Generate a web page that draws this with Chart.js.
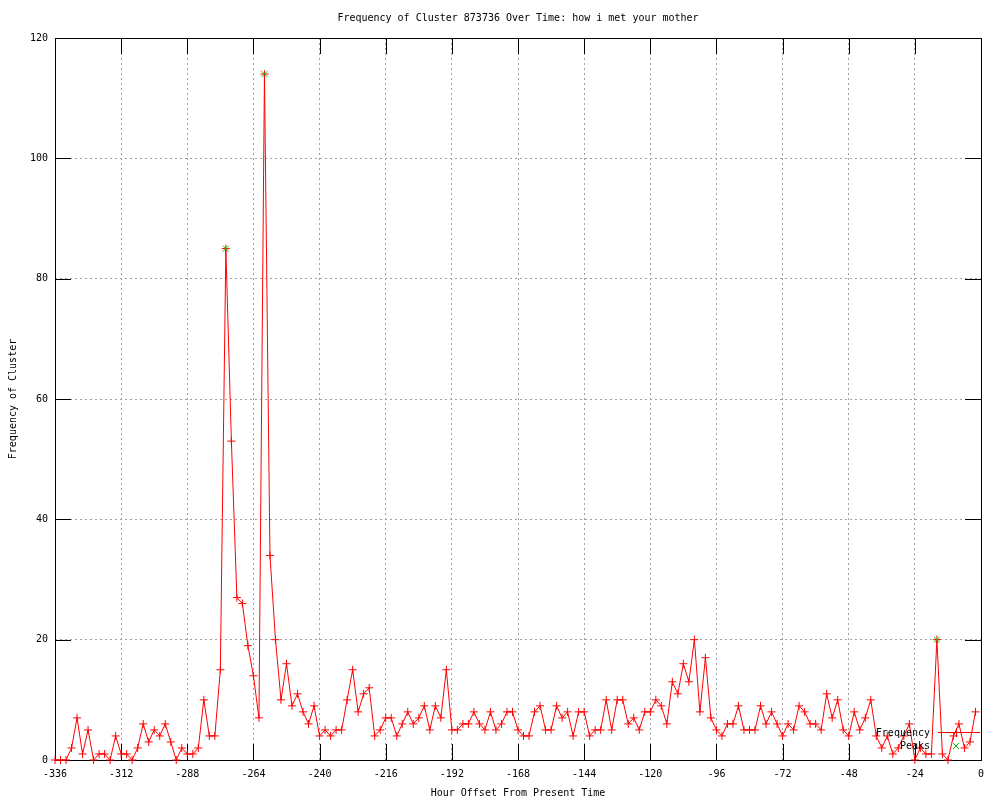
<!DOCTYPE html>
<html>
<head>
<meta charset="utf-8">
<title>Frequency of Cluster 873736 Over Time</title>
<script src="https://cdn.jsdelivr.net/npm/chart.js@4.4.1/dist/chart.umd.min.js"></script>
<style>
  html, body { margin: 0; padding: 0; background: #fff; }
  #wrap { width: 1000px; height: 800px; }
</style>
</head>
<body>
<div id="wrap"><canvas id="clusterChart" width="1000" height="800"></canvas></div>
<script>
// hour offsets (one sample every 2 hours)
const hours = [
  -336, -334, -332, -330, -328, -326, -324, -322, -320, -318, -316, -314, -312, -310, -308, -306,
  -304, -302, -300, -298, -296, -294, -292, -290, -288, -286, -284, -282, -280, -278, -276, -274,
  -272, -270, -268, -266, -264, -262, -260, -258, -256, -254, -252, -250, -248, -246, -244, -242,
  -240, -238, -236, -234, -232, -230, -228, -226, -224, -222, -220, -218, -216, -214, -212, -210,
  -208, -206, -204, -202, -200, -198, -196, -194, -192, -190, -188, -186, -184, -182, -180, -178,
  -176, -174, -172, -170, -168, -166, -164, -162, -160, -158, -156, -154, -152, -150, -148, -146,
  -144, -142, -140, -138, -136, -134, -132, -130, -128, -126, -124, -122, -120, -118, -116, -114,
  -112, -110, -108, -106, -104, -102, -100, -98, -96, -94, -92, -90, -88, -86, -84, -82,
  -80, -78, -76, -74, -72, -70, -68, -66, -64, -62, -60, -58, -56, -54, -52, -50,
  -48, -46, -44, -42, -40, -38, -36, -34, -32, -30, -28, -26, -24, -22, -20, -18,
  -16, -14, -12, -10, -8, -6, -4, -2
];

const frequency = [
  0, 0, 0, 2, 7, 1, 5, 0, 1, 1,
  0, 4, 1, 1, 0, 2, 6, 3, 5, 4,
  6, 3, 0, 2, 1, 1, 2, 10, 4, 4,
  15, 85, 53, 27, 26, 19, 14, 7, 114, 34,
  20, 10, 16, 9, 11, 8, 6, 9, 4, 5,
  4, 5, 5, 10, 15, 8, 11, 12, 4, 5,
  7, 7, 4, 6, 8, 6, 7, 9, 5, 9,
  7, 15, 5, 5, 6, 6, 8, 6, 5, 8,
  5, 6, 8, 8, 5, 4, 4, 8, 9, 5,
  5, 9, 7, 8, 4, 8, 8, 4, 5, 5,
  10, 5, 10, 10, 6, 7, 5, 8, 8, 10,
  9, 6, 13, 11, 16, 13, 20, 8, 17, 7,
  5, 4, 6, 6, 9, 5, 5, 5, 9, 6,
  8, 6, 4, 6, 5, 9, 8, 6, 6, 5,
  11, 7, 10, 5, 4, 8, 5, 7, 10, 4,
  2, 4, 1, 2, 4, 6, 0, 2, 1, 1,
  20, 1, 0, 4, 6, 2, 3, 8
];

const peakHours = [-274, -260, -16];
const peakValues = [85, 114, 20];

const xTicks = [-336, -312, -288, -264, -240, -216, -192, -168, -144, -120, -96, -72, -48, -24, 0];
const yTicks = [0, 20, 40, 60, 80, 100, 120];

const FONT = '"DejaVu Sans Mono", "Liberation Mono", monospace';
const TIC = 16;

// border box, inward tics, title and key, drawn like gnuplot
const gnuplotFrame = {
  id: 'gnuplotFrame',
  beforeDatasetsDraw(chart) {
    const { ctx, chartArea: a, scales: { x, y } } = chart;
    ctx.save();
    ctx.strokeStyle = '#000';
    ctx.lineWidth = 1;
    ctx.beginPath();
    xTicks.forEach(v => {
      const px = Math.round(x.getPixelForValue(v)) + 0.5;
      ctx.moveTo(px, a.bottom); ctx.lineTo(px, a.bottom - TIC);
      ctx.moveTo(px, a.top); ctx.lineTo(px, a.top + TIC);
    });
    yTicks.forEach(v => {
      const py = Math.round(y.getPixelForValue(v)) + 0.5;
      ctx.moveTo(a.left, py); ctx.lineTo(a.left + TIC, py);
      ctx.moveTo(a.right, py); ctx.lineTo(a.right - TIC, py);
    });
    ctx.stroke();
    ctx.strokeRect(Math.round(a.left) + 0.5, Math.round(a.top) + 0.5,
      Math.round(a.right - a.left), Math.round(a.bottom - a.top));

    ctx.fillStyle = '#000';
    ctx.font = '10px ' + FONT;
    ctx.textAlign = 'center';
    ctx.textBaseline = 'middle';
    ctx.fillText('Frequency of Cluster 873736 Over Time: how i met your mother', (a.left + a.right) / 2, 18);
    ctx.restore();
  },
  afterDatasetsDraw(chart) {
    const { ctx } = chart;
    const textRight = 930, x0 = 938, x1 = 980, cx = 956;
    ctx.save();
    ctx.font = '10px ' + FONT;
    ctx.fillStyle = '#000';
    ctx.textAlign = 'right';
    ctx.textBaseline = 'middle';
    ctx.fillText('Frequency', textRight, 733);
    ctx.fillText('Peaks', textRight, 746);

    ctx.strokeStyle = '#ff0000';
    ctx.lineWidth = 1;
    ctx.beginPath();
    ctx.moveTo(x0, 732.5); ctx.lineTo(x1, 732.5);
    ctx.moveTo(cx - 4, 732.5); ctx.lineTo(cx + 4, 732.5);
    ctx.moveTo(cx + 0.5, 728); ctx.lineTo(cx + 0.5, 737);
    ctx.stroke();

    ctx.strokeStyle = '#00c000';
    ctx.beginPath();
    ctx.moveTo(cx - 3, 743); ctx.lineTo(cx + 3, 749);
    ctx.moveTo(cx + 3, 743); ctx.lineTo(cx - 3, 749);
    ctx.stroke();
    ctx.restore();
  }
};

const ctx = document.getElementById('clusterChart').getContext('2d');
new Chart(ctx, {
  type: 'line',
  data: {
    datasets: [
      {
        label: 'Frequency',
        data: hours.map((h, i) => ({ x: h, y: frequency[i] })),
        borderColor: '#ff0000',
        backgroundColor: '#ff0000',
        borderWidth: 1,
        pointStyle: 'cross',
        pointRadius: 4,
        pointBorderWidth: 1,
        tension: 0,
        fill: false,
        clip: false,
        order: 2
      },
      {
        label: 'Peaks',
        data: peakHours.map((h, i) => ({ x: h, y: peakValues[i] })),
        showLine: false,
        borderColor: '#00c000',
        backgroundColor: '#00c000',
        pointStyle: 'crossRot',
        pointRadius: 4,
        pointBorderWidth: 1,
        clip: false,
        order: 1
      }
    ]
  },
  options: {
    responsive: false,
    animation: false,
    layout: { padding: { top: 38, right: 19, left: 0, bottom: 0 } },
    plugins: {
      legend: { display: false },
      title: { display: false },
      tooltip: { enabled: false }
    },
    scales: {
      x: {
        type: 'linear',
        min: -336,
        max: 0,
        afterBuildTicks: scale => { scale.ticks = xTicks.map(v => ({ value: v })); },
        afterFit: scale => { scale.height = 40; },
        grid: { color: '#a0a0a0', lineWidth: 1, drawTicks: false },
        border: { display: false, dash: [2, 3] },
        ticks: { color: '#000', font: { family: FONT, size: 10 }, padding: 8, maxRotation: 0, autoSkip: false },
        title: {
          display: true,
          text: 'Hour Offset From Present Time',
          color: '#000',
          font: { family: FONT, size: 10 },
          padding: { top: 0, bottom: 1 }
        }
      },
      y: {
        min: 0,
        max: 120,
        afterBuildTicks: scale => { scale.ticks = yTicks.map(v => ({ value: v })); },
        afterFit: scale => { scale.width = 55; },
        grid: { color: '#a0a0a0', lineWidth: 1, drawTicks: false },
        border: { display: false, dash: [2, 3] },
        ticks: { color: '#000', font: { family: FONT, size: 10 }, padding: 7 },
        title: {
          display: true,
          text: 'Frequency of Cluster',
          color: '#000',
          font: { family: FONT, size: 10 },
          padding: { top: 7, bottom: 0 }
        }
      }
    }
  },
  plugins: [gnuplotFrame]
});
</script>
</body>
</html>
